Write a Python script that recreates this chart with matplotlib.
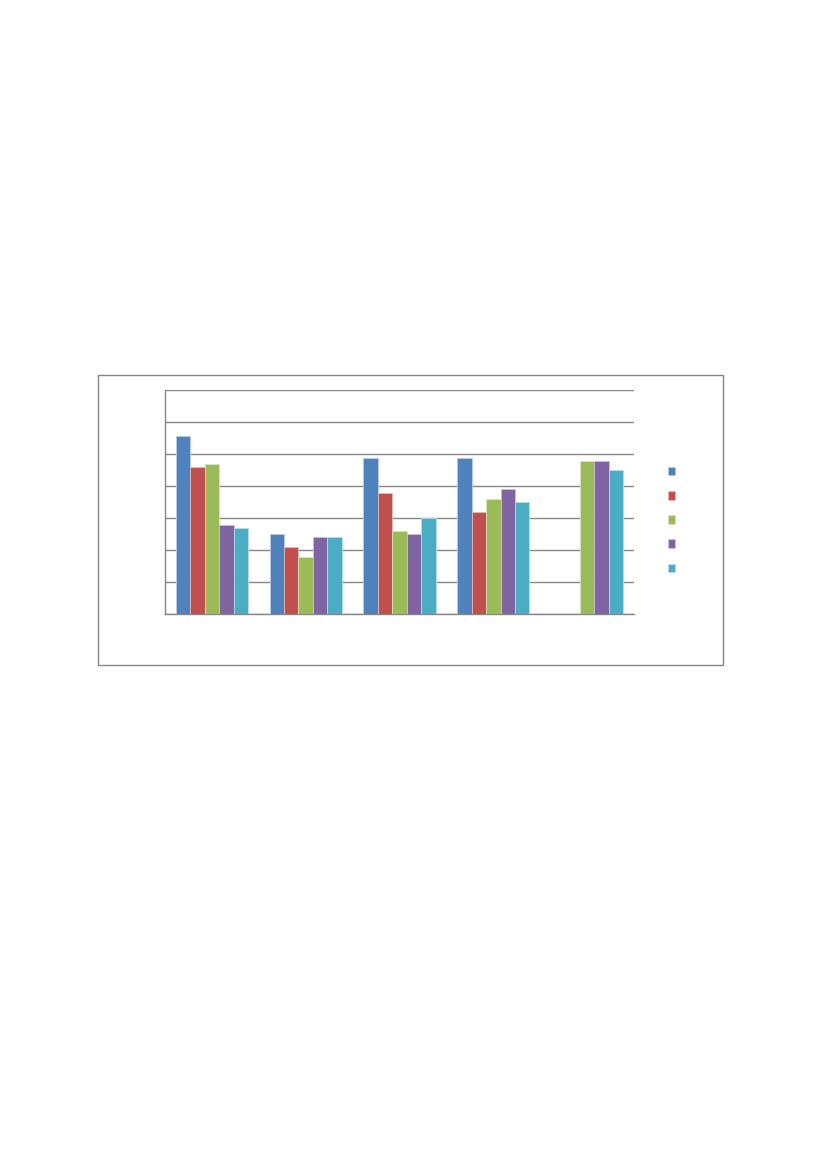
import numpy as np
import matplotlib
matplotlib.use("Agg")
import matplotlib.pyplot as plt
from matplotlib.patches import Patch, Rectangle

# values (gridline step = 10, axis 0..70)
categories = ["A", "B", "C", "D", "E"]
series_a = [55.7, 24.9, 48.8, 48.8, 0.0]
series_b = [45.8, 20.9, 37.9, 32.0, 0.0]
series_c = [46.9, 17.9, 25.9, 35.8, 47.8]
series_d = [27.8, 24.0, 24.9, 39.0, 47.8]
series_e = [26.9, 24.0, 29.9, 34.9, 44.9]
series_names = [" ", " ", " ", " ", " "]
colors = ["#4F81BD", "#C0504D", "#9BBB59", "#8064A2", "#4BACC6"]
edge_colors = ["#B9CDE5", "#E6B9B8", "#D7E4BD", "#CCC1DA", "#B7DEE8"]

fig = plt.figure(figsize=(8.27, 11.69), dpi=100)

# outer chart frame
fig.patches.append(Rectangle((0.1185, 0.4311), 0.7557, 0.2481, transform=fig.transFigure,
                             fill=False, edgecolor="#868686", linewidth=1.0))

ax = fig.add_axes([0.1995, 0.4748, 0.5671, 0.1916])

all_series = [series_a, series_b, series_c, series_d, series_e]
x = np.arange(len(categories))
width = 0.154
for i, vals in enumerate(all_series):
    offs = (i - 2) * width
    ax.bar(x + offs, vals, width=width, color=colors[i], edgecolor=edge_colors[i],
           linewidth=0.6, zorder=3)

ax.set_xlim(-0.5, len(categories) - 0.5)
ax.set_ylim(0, 70)
ax.set_yticks(np.arange(0, 71, 10))
ax.set_xticks(x)
ax.set_xticklabels([])
ax.set_yticklabels([])
ax.tick_params(length=0)
ax.grid(axis="y", color="#868686", linewidth=1.0, zorder=0)
for side in ["top", "right"]:
    ax.spines[side].set_visible(False)
for side in ["left", "bottom"]:
    ax.spines[side].set_color("#868686")
    ax.spines[side].set_linewidth(1.0)

handles = [Patch(facecolor=c, edgecolor=e, linewidth=0.6) for c, e in zip(colors, edge_colors)]
fig.legend(handles, series_names, loc="center", bbox_to_anchor=(0.818, 0.5548),
           frameon=False, handlelength=0.55, handleheight=0.55, fontsize=10,
           labelspacing=0.73, handletextpad=0.4)

fig.savefig("out.png", dpi=100)
